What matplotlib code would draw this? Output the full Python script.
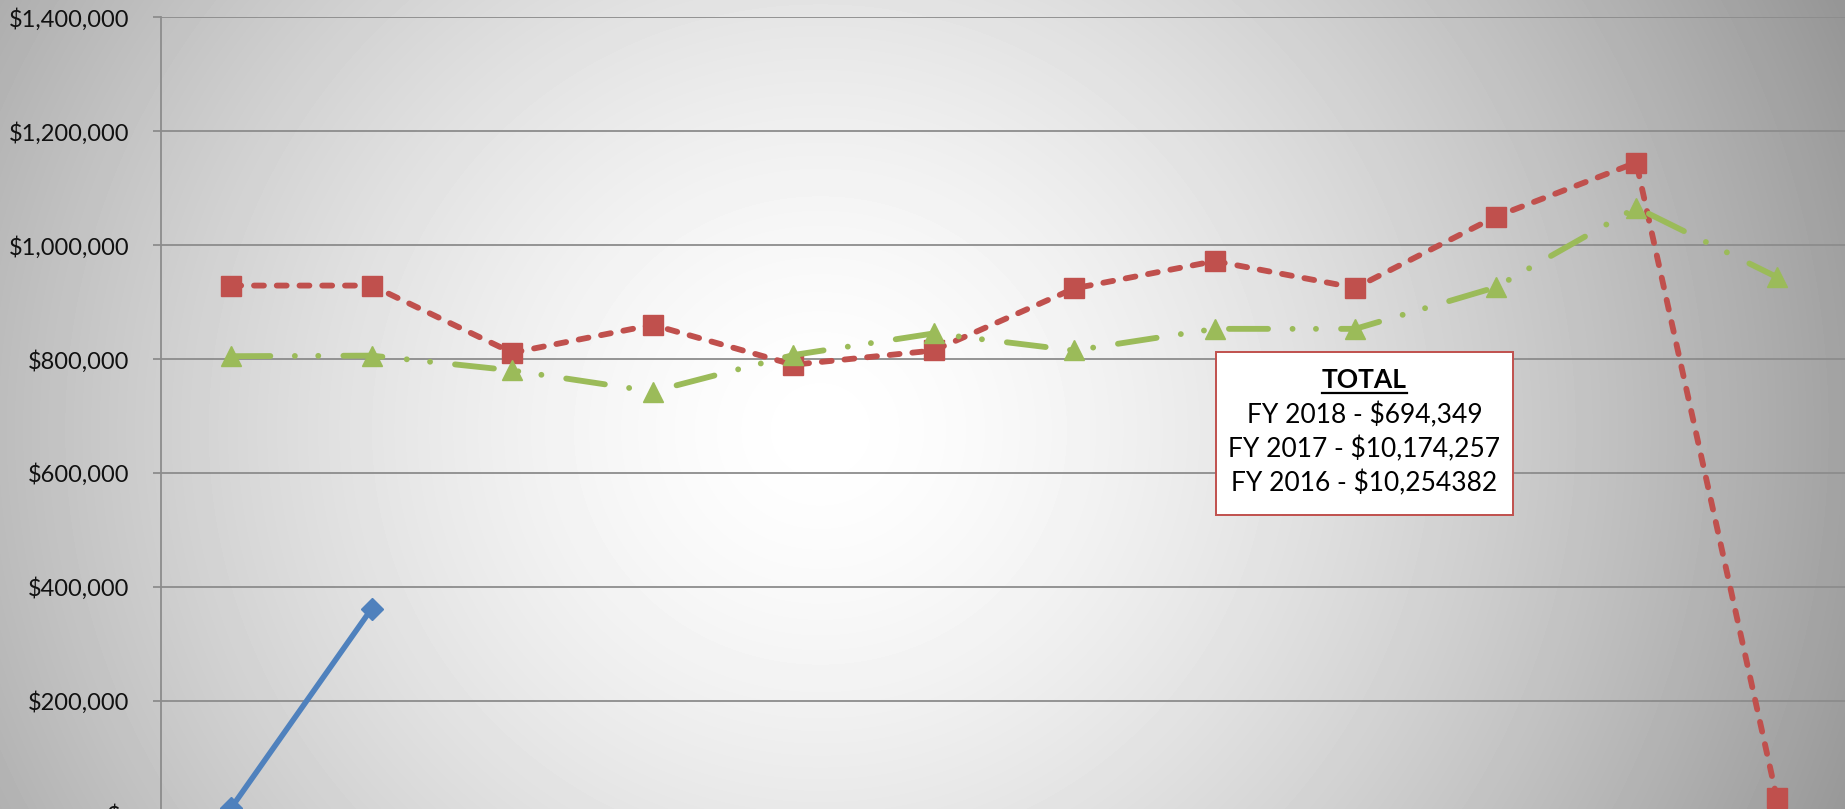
import numpy as np
import matplotlib.pyplot as plt
from matplotlib.lines import Line2D
from matplotlib.patches import Rectangle
from matplotlib.ticker import FuncFormatter

plt.rcParams['font.family'] = ['Lato', 'DejaVu Sans']

# monthly values (month labels sit below the visible part of the chart)
months = list(range(12))
fy2018 = [12000, 362000]
fy2017 = [929000, 929000, 811000, 860000, 790000, 815000,
          924000, 972000, 925000, 1050000, 1145000, 30000]
fy2016 = [805000, 806000, 780000, 743000, 807000, 845000,
          815000, 853000, 853000, 926000, 1066000, 944000]
y_ticks = [0, 200000, 400000, 600000, 800000, 1000000, 1200000, 1400000]
box_title = "TOTAL"
box_lines = ["FY 2018 - $694,349", "FY 2017 - $10,174,257", "FY 2016 - $10,254382"]

W, H = 1845, 809
fig = plt.figure(figsize=(W / 100, H / 100), dpi=100)

# radial grey gradient background
yy, xx = np.mgrid[0:H, 0:W]
d = np.hypot(xx - 820, (yy - 430) / 0.95)
g = np.clip(255 - 82 * (d / 943) ** 1.5, 150, 255) / 255
bg = fig.add_axes([0, 0, 1, 1])
bg.imshow(g, cmap='gray', vmin=0, vmax=1, aspect='auto', interpolation='bilinear')
bg.axis('off')

# plot area (bottom edge falls just outside the picture)
left, right = 161, 161 + 12 * 140.5
top, bottom = 17.3, 814.7
ax = fig.add_axes([left / W, (H - bottom) / H, (right - left) / W, (bottom - top) / H])
ax.set_facecolor('none')
ax.set_xlim(-0.5, 11.5)
ax.set_ylim(0, 1400000)
ax.set_yticks(y_ticks)
ax.yaxis.set_major_formatter(FuncFormatter(lambda v, p: "$-" if v == 0 else f"${v:,.0f}"))
ax.set_xticks([])
ax.grid(axis='y', color='#8c8c8c', lw=1.3)
ax.set_axisbelow(True)
for s in ['top', 'right', 'bottom']:
    ax.spines[s].set_visible(False)
ax.spines['left'].set_color('#8c8c8c')
ax.spines['left'].set_linewidth(1.3)
ax.tick_params(axis='y', length=5.8, width=1.3, color='#8c8c8c',
               labelsize=17, pad=17, labelcolor='#111111')

ax.plot(months, fy2017, color='#C0504D', lw=4.2, dashes=(1.7, 2.2),
        dash_capstyle='round', marker='s', ms=14.5, mec='#C0504D', zorder=3)
ax.plot(months, fy2016, color='#9BBB59', lw=4.2,
        dashes=(6.7, 4.2, 0.01, 4.0, 0.01, 4.3), dash_capstyle='round',
        marker='^', ms=15, mec='#9BBB59', zorder=4)
ax.plot(months[:2], fy2018, color='#4F81BD', lw=4.0, marker='D', ms=11.5,
        mec='#4F81BD', zorder=5)

# totals box
bx0, by0, bx1, by1 = 1216, 352, 1513, 515
fig.patches.append(Rectangle((bx0 / W, 1 - by1 / H), (bx1 - bx0) / W, (by1 - by0) / H,
                             transform=fig.transFigure, facecolor='white',
                             edgecolor='#C0504D', lw=1.4, zorder=10))
cx = (bx0 + bx1) / 2 / W
t = fig.text(cx, 1 - 380 / H, box_title, ha='center', va='center',
             fontsize=19, fontweight='bold', color='black', zorder=11)
for i, line in enumerate(box_lines):
    fig.text(cx, 1 - (415 + 34 * i) / H, line, ha='center', va='center',
             fontsize=19, color='black', zorder=11)

fig.canvas.draw()
bb = t.get_window_extent()
uy = bb.y0 - 1
fig.add_artist(Line2D([bb.x0, bb.x1], [uy, uy], transform=None,
                      color='black', lw=1.6, zorder=12))

fig.savefig('out.png', dpi=100)
